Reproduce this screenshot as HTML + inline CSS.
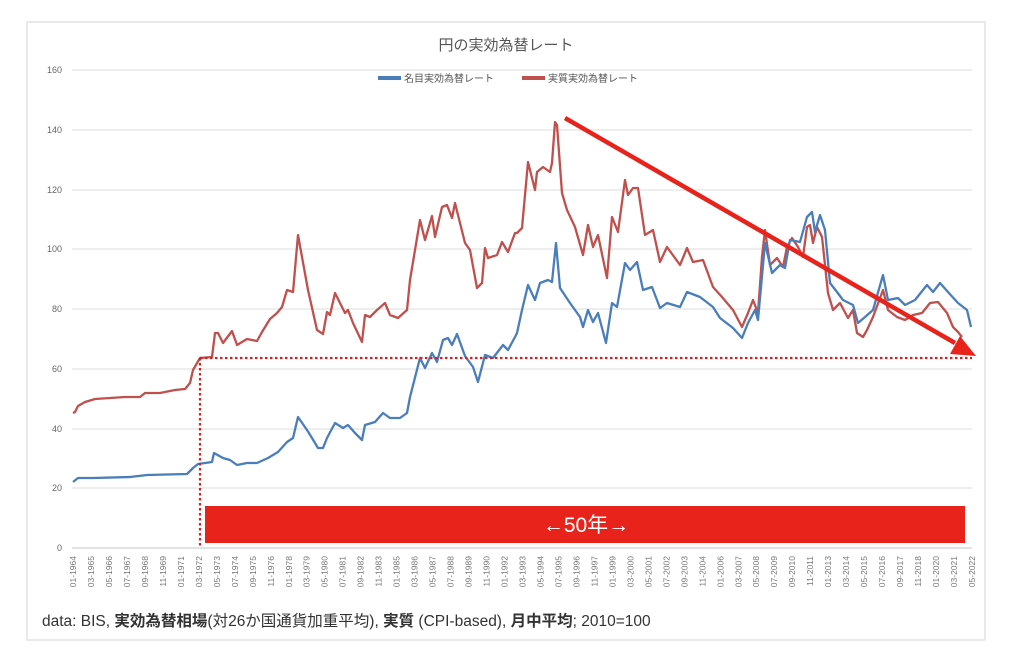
<!DOCTYPE html>
<html><head><meta charset="utf-8"><style>
body{margin:0;background:#fff;width:1024px;height:653px;overflow:hidden}
svg{display:block}
</style></head><body>
<svg width="1024" height="653" viewBox="0 0 1024 653" xmlns="http://www.w3.org/2000/svg" font-family="'Liberation Sans','Noto Sans CJK JP',sans-serif">
<rect x="27" y="22" width="958" height="618" fill="#fff" stroke="#e2e2e2" stroke-width="1.5"/>
<text x="506" y="50" font-size="15" fill="#555" text-anchor="middle">円の実効為替レート</text>
<line x1="378" y1="78" x2="401" y2="78" stroke="#4a7ebb" stroke-width="4"/>
<text x="404" y="82" font-size="10" fill="#555">名目実効為替レート</text>
<line x1="522" y1="78" x2="545" y2="78" stroke="#c0504d" stroke-width="4"/>
<text x="548" y="82" font-size="10" fill="#555">実質実効為替レート</text>
<g stroke="#e8e8e8" stroke-width="1.5">
<line x1="72" y1="70" x2="972" y2="70"/><line x1="72" y1="130" x2="972" y2="130"/><line x1="72" y1="190" x2="972" y2="190"/><line x1="72" y1="249" x2="972" y2="249"/><line x1="72" y1="309" x2="972" y2="309"/><line x1="72" y1="369" x2="972" y2="369"/><line x1="72" y1="429" x2="972" y2="429"/><line x1="72" y1="488" x2="972" y2="488"/><line x1="72" y1="548" x2="972" y2="548" stroke="#d8d8d8"/>
</g>
<g font-size="9" fill="#666" text-anchor="end">
<text x="62" y="73">160</text><text x="62" y="133">140</text><text x="62" y="193">120</text><text x="62" y="252">100</text><text x="62" y="312">80</text><text x="62" y="372">60</text><text x="62" y="432">40</text><text x="62" y="491">20</text><text x="62" y="551">0</text>
</g>
<g id="xl" font-size="8.5" fill="#777" text-anchor="end"></g>
<polyline fill="none" stroke="#c0504d" stroke-width="2.3" stroke-linejoin="round" points="73,413 75,412 78,406 85,402 95,399 110,398 125,397 140,397 145,393 160,393 175,390 185,389 190,383 193,370 200,358 212,357 215,333 218,333 223,343 232,331 237,345 247,339 257,341 262,332 270,319 277,313 282,307 287,290 293,292 298,235 308,290 317,330 323,334 327,312 330,315 335,293 345,313 348,310 353,323 362,342 365,315 370,317 377,310 385,303 390,315 398,318 407,310 410,280 420,220 425,240 432,216 435,237 442,207 447,205 452,218 455,203 465,243 470,250 477,288 482,283 485,248 488,258 497,255 502,242 508,252 515,233 517,233 522,228 528,162 535,190 537,172 543,167 550,172 552,163 555,122 557,125 562,193 567,210 575,227 583,255 588,225 593,247 598,235 607,278 612,217 618,232 625,180 628,195 633,188 638,188 645,235 653,230 660,262 667,247 680,265 687,248 693,262 703,260 713,287 722,297 733,310 742,327 748,313 753,300 758,313 762,257 765,230 770,265 777,258 783,267 787,247 792,238 798,247 803,257 807,227 810,225 813,243 817,227 822,237 828,293 833,310 840,303 848,318 853,310 857,333 863,337 867,330 873,317 883,290 888,310 897,317 905,320 913,315 922,313 930,303 938,302 947,313 953,327 958,332 962,337"/>
<polyline fill="none" stroke="#4a7ebb" stroke-width="2.3" stroke-linejoin="round" points="73,482 78,478 93,478 130,477 147,475 187,474 193,468 198,464 212,462 214,453 223,458 230,460 237,465 247,463 257,463 268,458 278,452 287,442 293,438 298,417 307,430 312,438 318,448 323,448 327,438 335,423 343,428 348,425 355,433 362,440 365,425 375,422 383,413 390,418 400,418 407,413 410,397 420,358 425,368 432,353 437,362 443,340 448,338 452,345 457,334 465,356 473,367 478,382 485,355 493,358 503,345 508,350 515,337 517,333 522,310 528,285 535,300 540,283 548,280 552,282 556,243 560,288 570,303 580,317 583,327 588,310 593,322 598,313 606,343 612,303 617,307 625,263 630,270 637,262 643,290 652,287 660,308 667,303 680,307 687,292 700,297 713,307 720,318 733,328 742,338 748,323 755,310 758,320 765,243 772,273 780,265 785,268 790,240 800,242 807,217 812,212 815,232 820,215 825,230 830,283 837,292 843,300 853,305 858,323 865,317 873,310 883,275 888,300 898,298 905,305 915,300 927,285 933,292 940,283 948,292 958,303 967,310 971,327"/>
<g stroke="#d42020" stroke-width="2.2" stroke-dasharray="2.5,2.5" fill="none">
<line x1="200" y1="358" x2="972" y2="358"/><line x1="200" y1="358" x2="200" y2="548"/>
</g>
<line x1="565" y1="118" x2="955" y2="343" stroke="#e8231b" stroke-width="4.5"/>
<polygon points="976,356 950,354 960,336" fill="#e8231b"/>
<rect x="205" y="506" width="760" height="37" fill="#e8231b"/>
<text x="586" y="532" font-size="21" fill="#fff" text-anchor="middle">←50年→</text>
<text x="42" y="626" font-size="15.5" fill="#333">data: BIS, <tspan font-weight="bold">実効為替相場</tspan>(対26か国通貨加重平均), <tspan font-weight="bold">実質</tspan> (CPI-based), <tspan font-weight="bold">月中平均</tspan>; 2010=100</text>
</svg>
<script>
var labs=["01-1964","03-1965","05-1966","07-1967","09-1968","11-1969","01-1971","03-1972","05-1973","07-1974","09-1975","11-1976","01-1978","03-1979","05-1980","07-1981","09-1982","11-1983","01-1985","03-1986","05-1987","07-1988","09-1989","11-1990","01-1992","03-1993","05-1994","07-1995","09-1996","11-1997","01-1999","03-2000","05-2001","07-2002","09-2003","11-2004","01-2006","03-2007","05-2008","07-2009","09-2010","11-2011","01-2013","03-2014","05-2015","07-2016","09-2017","11-2018","01-2020","03-2021","05-2022"];
var g=document.getElementById('xl'),ns="http://www.w3.org/2000/svg";
labs.forEach(function(l,i){var x=73+i*17.98+3;var t=document.createElementNS(ns,'text');t.setAttribute('transform','translate('+x+',556) rotate(-90)');t.textContent=l;g.appendChild(t);});
</script>
</body></html>
